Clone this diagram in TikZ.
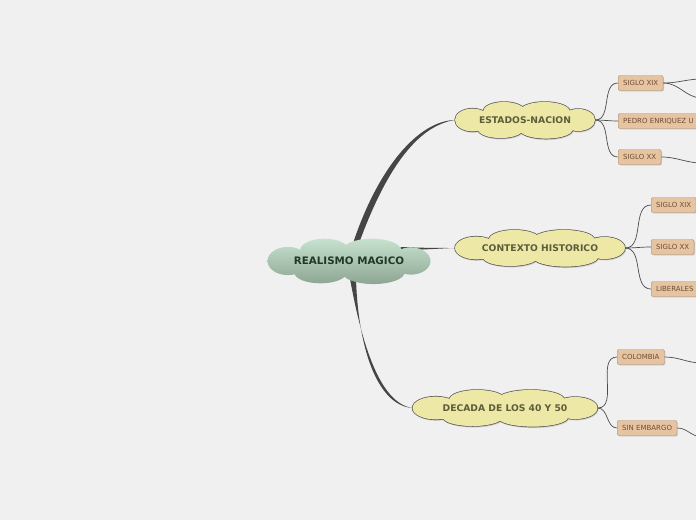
\documentclass[tikz,border=0pt]{standalone}
\usepackage{fontspec}
\setmainfont{DejaVu Sans}
\usepackage{xcolor}
\usetikzlibrary{calc, shadows, backgrounds}

\definecolor{paper}{HTML}{F0F0F0}
\definecolor{rootlight}{HTML}{C6E2CE}
\definecolor{rootdark}{HTML}{8DA693}
\definecolor{roottext}{HTML}{1E3A24}
\definecolor{cloudfill}{HTML}{EDE8A6}
\definecolor{cloudline}{HTML}{555555}
\definecolor{cloudtext}{HTML}{5E5C3A}
\definecolor{boxfill}{HTML}{E6C4A2}
\definecolor{boxline}{HTML}{A98B6F}
\definecolor{boxtext}{HTML}{6E4E33}
\definecolor{branchgray}{HTML}{454545}

% puffs of a cloud round a node: name, half width, half height
\newcommand\puffpath[3]{%
  \foreach \dx/\dy/\rx/\ry in {0/0/.72/.68, -.3/-.45/.3/.5, .28/-.45/.36/.5,
      -.35/.5/.32/.45, .3/.5/.38/.48, -.75/0/.25/.6, .76/0/.24/.58}
    {($(#1)+(\dx*#2,\dy*#3)$) ellipse [x radius={\rx*#2*1pt}, y radius={\ry*#3*1pt}]}}

\begin{document}
\begin{tikzpicture}[x=1pt, y=-1pt,
  central/.style={inner sep=0pt, minimum width=163pt, minimum height=47pt,
    font=\bfseries\fontsize{10.3}{12}\selectfont, text=roottext},
  idea/.style={inner sep=0pt, minimum height=38pt,
    font=\bfseries\fontsize{9.2}{11}\selectfont, text=cloudtext},
  leaf/.style={draw=boxline, fill=boxfill, rounded corners=2pt, anchor=west,
    minimum height=15pt, inner xsep=5pt, inner ysep=0pt,
    font=\fontsize{7}{8}\selectfont, text=boxtext,
    drop shadow={opacity=0.25, shadow xshift=1pt, shadow yshift=-1pt}},
  twig/.style={draw=black!70, line width=0.7pt},
  branch/.style={fill=branchgray}]

  \useasboundingbox (0,0) rectangle (696,520);
  \clip (0,0) rectangle (696,520);

  % central idea and the three clouds
  \node[central] (realismo) at (349,261) {REALISMO MAGICO};
  \node[idea, minimum width=140pt] (estados) at (525,120) {ESTADOS-NACION};
  \node[idea, minimum width=170pt] (contexto) at (540,248) {CONTEXTO HISTORICO};
  \node[idea, minimum width=185pt] (decada) at (505,408) {DECADA DE LOS 40 Y 50};

  % leaves
  \node[leaf] (e1) at (618,83) {SIGLO XIX};
  \node[leaf] (e2) at (618,121) {PEDRO ENRIQUEZ U};
  \node[leaf] (e3) at (618,157) {SIGLO XX};
  \node[leaf] (c1) at (651,205) {SIGLO XIX};
  \node[leaf] (c2) at (651,247) {SIGLO XX};
  \node[leaf] (c3) at (651,289) {LIBERALES};
  \node[leaf] (d1) at (617,357) {COLOMBIA};
  \node[leaf] (d2) at (617,428) {SIN EMBARGO};

  % loose ends past the page edge
  \coordinate (e1a) at (702,79);
  \coordinate (e1b) at (702,98);
  \coordinate (e3a) at (702,163);
  \coordinate (d1a) at (702,363);
  \coordinate (d2a) at (702,437);

  \begin{scope}[on background layer]
    \fill[paper] (0,0) rectangle (696,520);
    % main branches, thick at the root
    \fill[branch] ($(realismo.north)+(4,6)$) .. controls (378,168) and (418,121) ..
      (estados.west) .. controls (416,126) and (385,172) .. ($(realismo.north)+(10,6)$) -- cycle;
    \fill[branch] ($(realismo.east)+(-30,-14)$) .. controls (425,248) and (440,248) ..
      (contexto.west) .. controls (440,248.5) and (425,249.5) .. ($(realismo.east)+(-30,-10.5)$) -- cycle;
    \fill[branch] ($(realismo.south)+(1,-6)$) .. controls (362,345) and (380,403) ..
      (decada.west) .. controls (376,405) and (358,345) .. ($(realismo.south)+(7,-6)$) -- cycle;
    % clouds
    \shade[top color=rootlight, bottom color=rootdark] \puffpath{realismo}{81.5}{23.5};
    \foreach \cloudname/\hw in {estados/70, contexto/85, decada/92.5} {
      \fill[black, opacity=0.12] \puffpath{$(\cloudname)+(1,1.5)$}{\hw}{19};
      \draw[cloudline, line width=1.4pt] \puffpath{\cloudname}{\hw}{19};
      \fill[cloudfill] \puffpath{\cloudname}{\hw}{19};
    }
  \end{scope}

  % twigs
  \foreach \leafname in {e1,e2,e3}
    \draw[twig] (estados.east) to[out=0, in=180] (\leafname.west);
  \foreach \leafname in {c1,c2,c3}
    \draw[twig] (contexto.east) to[out=0, in=180] (\leafname.west);
  \foreach \leafname in {d1,d2}
    \draw[twig] (decada.east) to[out=0, in=180] (\leafname.west);

  \draw[twig] (e1.east) to[out=0, in=180] (e1a);
  \draw[twig] (e1.east) to[out=0, in=180] (e1b);
  \draw[twig] (e3.east) to[out=0, in=180] (e3a);
  \draw[twig] (d1.east) to[out=0, in=180] (d1a);
  \draw[twig] (d2.east) to[out=0, in=180] (d2a);
\end{tikzpicture}
\end{document}
